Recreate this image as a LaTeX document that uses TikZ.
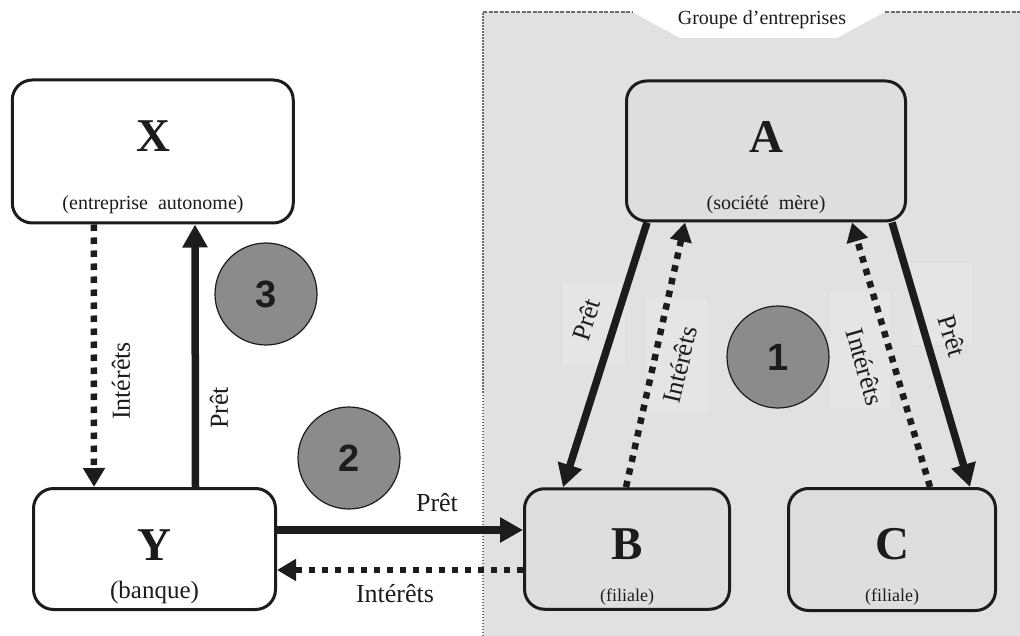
\documentclass[tikz,border=0pt]{standalone}
\usepackage{fontspec}
\setmainfont{Liberation Serif}
\newfontfamily\numfont{Liberation Sans}
\usetikzlibrary{arrows.meta,calc}

\definecolor{groupbg}{HTML}{E1E1E1}
\definecolor{boxgrey}{HTML}{DEDEDE}
\definecolor{patch}{HTML}{E5E5E5}
\definecolor{disc}{HTML}{8B8B8B}
\definecolor{ink}{HTML}{1C1C1C}
\definecolor{frame}{HTML}{6E6E6E}

\tikzset{
  entity/.style={draw=ink, line width=3pt, rounded corners=20pt, inner sep=0pt},
  loan/.style={draw=ink, line width=7.5pt, -{Triangle[length=23pt,width=24pt]}},
  interest/.style={draw=ink, line width=6.5pt, dash pattern=on 6.5pt off 6.5pt,
                   -{Triangle[length=19pt,width=21pt]}},
  flowlabel/.style={font=\fontsize{26}{26}\selectfont, inner sep=0pt, text=ink},
  letter/.style={font=\fontsize{47}{47}\selectfont\bfseries, inner sep=0pt, text=ink},
  role/.style={font=\fontsize{20}{20}\selectfont, inner sep=0pt, text=ink},
  stage/.style={circle, draw=ink, line width=1.2pt, fill=disc, minimum size=102pt,
                inner sep=0pt, text=ink, font=\numfont\fontsize{38}{38}\selectfont\bfseries}
}

\begin{document}
\begin{tikzpicture}[x=1pt,y=-1pt]
\useasboundingbox (0,0) rectangle (1020,636);

% group area with notch for its title
\fill[groupbg] (483,12) -- (632,12) -- (680,38) -- (837,38) -- (885,12)
  -- (1020,12) -- (1020,636) -- (483,636) -- cycle;
\draw[frame, line width=1.5pt, dash pattern=on 1.5pt off 1.5pt] (483,636) -- (483,12);
\draw[frame, line width=1.2pt, dash pattern=on 4pt off 1.5pt] (483,12) -- (632,12);
\draw[frame, line width=1.2pt, dash pattern=on 4pt off 1.5pt] (885,12) -- (1020,12);
\node[font=\fontsize{20}{20}\selectfont, inner sep=0pt, text=ink] (grp) at (762,20) {Groupe d'entreprises};

% light patches behind the slanted labels
\fill[patch] (563,283) rectangle (625,365);
\fill[patch] (646,298) rectangle (707,413);
\fill[patch] (830,292) rectangle (890,408);
\fill[patch] (912,263) rectangle (972,345);

% entities
\node[entity, fill=white, minimum width=281pt, minimum height=143pt] (X) at (152.75,151.5) {};
\node[entity, fill=white, minimum width=242pt, minimum height=121pt] (Y) at (154.5,549) {};
\node[entity, fill=boxgrey, minimum width=279pt, minimum height=140pt] (A) at (766,151) {};
\node[entity, fill=boxgrey, minimum width=205pt, minimum height=120.5pt] (B) at (627,549) {};
\node[entity, fill=boxgrey, minimum width=207pt, minimum height=122pt] (C) at (892,549.5) {};

\node[letter] (Xl) at (153,136) {X};
\node[role] (Xr) at (153,205) {(entreprise\ \ autonome)};
\node[letter] (Yl) at (154.5,545) {Y};
\node[role, font=\fontsize{25}{25}\selectfont] (Yr) at (154.5,592) {(banque)};
\node[letter] (Al) at (766,137) {A};
\node[role] (Ar) at (766,205) {(société\ \ mère)};
\node[letter] (Bl) at (627,544) {B};
\node[role, font=\fontsize{18}{18}\selectfont] (Br) at (627,597) {(filiale)};
\node[letter] (Cl) at (892,544) {C};
\node[role, font=\fontsize{18}{18}\selectfont] (Cr) at (892,597) {(filiale)};

% flows between X and Y
\draw[interest] ([xshift=-59pt]X.south) -- ([xshift=-60.5pt]Y.north);
\draw[loan] ([xshift=41pt]Y.north) -- ([xshift=42.25pt]X.south);
\node[flowlabel, rotate=90] (XYi) at (121,381) {Intérêts};
\node[flowlabel, rotate=90] (YXp) at (219,408) {Prêt};

% flows between Y and B
\draw[loan] ([yshift=19pt]Y.east) -- ([yshift=19pt]B.west);
\draw[interest] ([yshift=-21pt]B.west) -- ([yshift=-21pt]Y.east);
\node[flowlabel] (YBp) at (437,503) {Prêt};
\node[flowlabel] (BYi) at (395,594) {Intérêts};

% flows inside the group
\draw[loan] ([xshift=-119pt]A.south) -- ([xshift=-64pt]B.north);
\draw[interest] ([xshift=-1pt]B.north) -- ([xshift=-81pt]A.south);
\draw[loan] ([xshift=126pt]A.south) -- ([xshift=78pt]C.north);
\draw[interest] ([xshift=38pt]C.north) -- ([xshift=86pt]A.south);
\node[flowlabel, rotate=72] (ABp) at (586,320) {Prêt};
\node[flowlabel, rotate=77] (BAi) at (680,365) {Intérêts};
\node[flowlabel, rotate=-74] (CAi) at (865,367) {Intérêts};
\node[flowlabel, rotate=-73] (ACp) at (952,336) {Prêt};

% numbered stages
\node[stage] (s3) at (266,294) {3};
\node[stage] (s2) at (349,458) {2};
\node[stage] (s1) at (778,357) {1};
\end{tikzpicture}
\end{document}
